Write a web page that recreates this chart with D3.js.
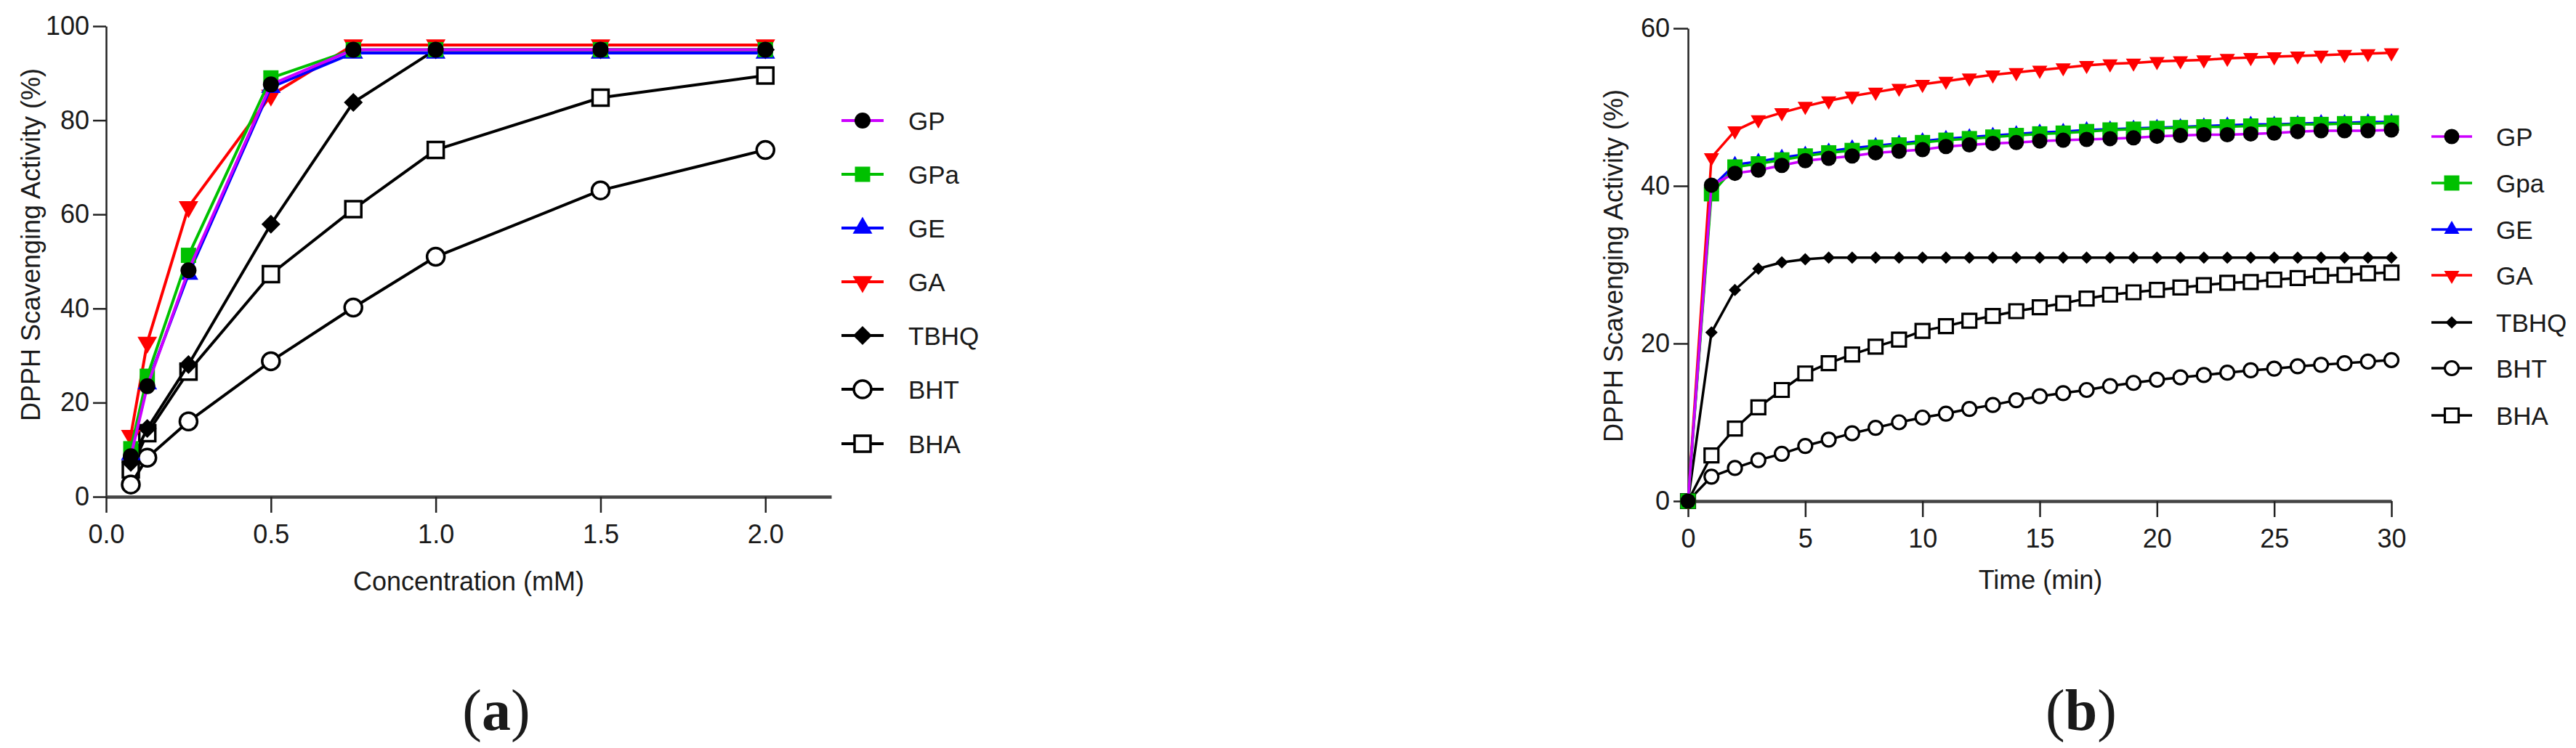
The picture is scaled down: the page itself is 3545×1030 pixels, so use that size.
<!DOCTYPE html>
<html>
<head>
<meta charset="utf-8">
<script src="https://cdnjs.cloudflare.com/ajax/libs/d3/7.8.5/d3.min.js"></script>
<style>
  body { margin: 0; background: #fff; }
  text { font-family: "Liberation Sans", Arial, sans-serif; fill: #1a1a1a; }
  .panel-label { font-family: "Liberation Serif", "Times New Roman", serif; }
</style>
</head>
<body>
<div id="content"></div>
<script>
// (a) concentration series
var concA = [0.075, 0.125, 0.25, 0.5, 0.75, 1.0, 1.5, 2.0];
var gpA   = [8.6, 23.5, 48.1, 87.6, 95.0, 95.0, 95.0, 95.0];
var gpaA  = [10.2, 25.6, 51.3, 89.0, 95.0, 95.0, 95.0, 95.0];
var geA   = [9.0, 24.0, 47.3, 87.0, 94.3, 94.3, 94.3, 94.3];
var gaA   = [13.0, 32.8, 61.6, 85.3, 96.0, 96.0, 96.0, 96.0];
var tbhqA = [7.3, 14.5, 28.1, 57.9, 83.8, 95.0, 95.0, 95.0];
var bhtA  = [2.6, 8.3, 16.0, 28.8, 40.2, 51.0, 65.1, 73.7];
var bhaA  = [5.8, 13.5, 26.6, 47.3, 61.1, 73.7, 84.8, 89.5];

// (b) time series
var timeB = [0, 1, 2, 3, 4, 5, 6, 7, 8, 9, 10, 11, 12, 13, 14, 15, 16, 17, 18, 19, 20,
             21, 22, 23, 24, 25, 26, 27, 28, 29, 30];
var gpB   = [0, 40.1, 41.6, 42.0, 42.6, 43.2, 43.5, 43.8, 44.2, 44.4, 44.6, 45.0, 45.2, 45.4, 45.5,
             45.7, 45.8, 45.9, 46.0, 46.1, 46.3, 46.4, 46.5, 46.5, 46.6, 46.7, 46.9, 47.0, 47.0, 47.0, 47.1];
var gpaB  = [0, 39.0, 42.4, 42.8, 43.3, 43.8, 44.2, 44.5, 44.9, 45.2, 45.5, 45.8, 46.0, 46.2, 46.4,
             46.6, 46.7, 46.9, 47.1, 47.2, 47.3, 47.4, 47.5, 47.5, 47.6, 47.7, 47.8, 47.8, 47.9, 47.9, 48.0];
var geB   = [0, 39.8, 42.7, 43.1, 43.6, 44.0, 44.4, 44.8, 45.1, 45.4, 45.7, 46.0, 46.2, 46.4, 46.6,
             46.8, 46.9, 47.1, 47.2, 47.3, 47.4, 47.5, 47.6, 47.7, 47.8, 47.8, 47.9, 48.0, 48.0, 48.1, 48.1];
var gaB   = [0, 43.6, 47.0, 48.4, 49.3, 50.1, 50.8, 51.4, 51.9, 52.4, 52.9, 53.3, 53.7, 54.1, 54.4,
             54.7, 55.0, 55.3, 55.5, 55.6, 55.8, 55.9, 56.0, 56.2, 56.3, 56.4, 56.5, 56.6, 56.7, 56.8, 56.9];
var tbhqB = [0, 21.4, 26.8, 29.5, 30.3, 30.7, 30.9, 30.9, 30.9, 30.9, 30.9, 30.9, 30.9, 30.9, 30.9,
             30.9, 30.9, 30.9, 30.9, 30.9, 30.9, 30.9, 30.9, 30.9, 30.9, 30.9, 30.9, 30.9, 30.9, 30.9, 30.9];
var bhtB  = [0, 3.1, 4.2, 5.2, 6.0, 7.0, 7.8, 8.6, 9.3, 10.0, 10.6, 11.1, 11.7, 12.2, 12.8,
             13.3, 13.7, 14.1, 14.6, 15.0, 15.4, 15.7, 16.0, 16.3, 16.6, 16.8, 17.1, 17.3, 17.5, 17.7, 17.9];
var bhaB  = [0, 5.8, 9.2, 11.9, 14.1, 16.2, 17.5, 18.6, 19.6, 20.5, 21.6, 22.2, 22.9, 23.5, 24.1,
             24.6, 25.1, 25.7, 26.2, 26.5, 26.8, 27.1, 27.4, 27.7, 27.8, 28.1, 28.3, 28.6, 28.7, 28.9, 29.0];

var namesA = ["GP", "GPa", "GE", "GA", "TBHQ", "BHT", "BHA"];
var namesB = ["GP", "Gpa", "GE", "GA", "TBHQ", "BHT", "BHA"];
var lineColors = ["#cc00ff", "#00c000", "#0000ff", "#ff0000", "#000000", "#000000", "#000000"];
var markerFill = ["#000000", "#00c000", "#0000ff", "#ff0000", "#000000", "#ffffff", "#ffffff"];
var markers = ["circle", "square", "triangle", "triangleDown", "diamond", "circle", "square"];

var ticksA = [0, 20, 40, 60, 80, 100];
var xticksA = [0.0, 0.5, 1.0, 1.5, 2.0];
var ticksB = [0, 20, 40, 60];
var xticksB = [0, 5, 10, 15, 20, 25, 30];

var svg = d3.select("#content").append("svg")
	.attr("width", 3545).attr("height", 1030);

svg.append("rect").attr("width", 3545).attr("height", 1030).attr("fill", "#fff");

// size d: diameter / side / triangle side / diamond diagonal
function markerPath(kind, d) {
	if (kind == "circle") return d3.symbol().type(d3.symbolCircle).size(Math.PI * d * d / 4)();
	if (kind == "square") return d3.symbol().type(d3.symbolSquare).size(d * d)();
	if (kind == "diamond") return d3.symbol().type(d3.symbolSquare).size(d * d / 2)();
	return d3.symbol().type(d3.symbolTriangle).size(Math.sqrt(3) / 4 * d * d)();
}

function markerRot(kind) {
	if (kind == "triangleDown") return " rotate(180)";
	if (kind == "diamond") return " rotate(45)";
	return "";
}

function drawPanel(cfg) {
	var g = svg.append("g");
	var x = d3.scaleLinear().domain(cfg.xDomain).range(cfg.xRange);
	var y = d3.scaleLinear().domain(cfg.yDomain).range(cfg.yRange);

	// y axis
	var yAxis = g.append("g")
		.attr("transform", "translate(" + cfg.xRange[0] + ",0)")
		.call(d3.axisLeft(y).tickValues(cfg.yTicks).tickSize(cfg.yTickLen).tickSizeOuter(0).tickPadding(5));
	yAxis.select(".domain").attr("stroke", "#222").attr("stroke-width", 2.5);
	yAxis.selectAll(".tick line").attr("stroke", "#222").attr("stroke-width", 2.5);
	yAxis.selectAll(".tick text").attr("font-size", 36).attr("fill", "#1a1a1a")
		.style("font-family", "'Liberation Sans', Arial, sans-serif");

	// x axis
	var xAxis = g.append("g")
		.attr("transform", "translate(0," + cfg.yRange[0] + ")")
		.call(d3.axisBottom(x).tickValues(cfg.xTicks).tickFormat(cfg.xFormat)
			.tickSize(cfg.xTickLen).tickSizeOuter(0).tickPadding(16));
	xAxis.select(".domain").attr("stroke", "#444").attr("stroke-width", 4.5);
	xAxis.selectAll(".tick line").attr("stroke", "#222").attr("stroke-width", 2.5);
	xAxis.selectAll(".tick text").attr("font-size", 36).attr("fill", "#1a1a1a")
		.style("font-family", "'Liberation Sans', Arial, sans-serif");

	// titles
	g.append("text")
		.attr("x", cfg.xTitlePos[0]).attr("y", cfg.xTitlePos[1])
		.attr("text-anchor", "middle").attr("dominant-baseline", "central")
		.attr("font-size", 36).text(cfg.xTitle);
	g.append("text")
		.attr("transform", "translate(" + cfg.yTitlePos[0] + "," + cfg.yTitlePos[1] + ") rotate(-90)")
		.attr("text-anchor", "middle").attr("dominant-baseline", "central")
		.attr("font-size", 36).text("DPPH Scavenging Activity (%)");

	var line = d3.line()
		.x(function(d) { return x(d[0]); })
		.y(function(d) { return y(d[1]); });

	// draw from last series to first so GP ends on top
	for (var i = cfg.series.length - 1; i >= 0; i--) {
		var s = cfg.series[i];
		var pts = cfg.xs.map(function(v, k) { return [v, s[k]]; });
		var sg = g.append("g");
		sg.append("path")
			.attr("d", line(pts))
			.attr("fill", "none")
			.attr("stroke", lineColors[i])
			.attr("stroke-width", cfg.lineWidth)
			.attr("stroke-linejoin", "round");
		var kind = markers[i];
		var open = markerFill[i] == "#ffffff";
		sg.selectAll("path.pt")
			.data(pts)
			.enter().append("path")
			.attr("class", "pt")
			.attr("d", markerPath(kind, cfg.markSize[i]))
			.attr("transform", function(d) {
				return "translate(" + x(d[0]) + "," + y(d[1]) + ")" + markerRot(kind);
			})
			.attr("fill", markerFill[i])
			.attr("stroke", open ? "#000" : "none")
			.attr("stroke-width", open ? cfg.openStroke : 0);
	}

	// legend
	for (var j = 0; j < cfg.names.length; j++) {
		var ly = cfg.legendY[j];
		var lg = g.append("g").attr("transform", "translate(0," + ly + ")");
		lg.append("line")
			.attr("x1", cfg.legendX[0]).attr("x2", cfg.legendX[2])
			.attr("stroke", lineColors[j]).attr("stroke-width", cfg.lineWidth);
		var k2 = markers[j];
		var open2 = markerFill[j] == "#ffffff";
		lg.append("path")
			.attr("d", markerPath(k2, cfg.markSize[j]))
			.attr("transform", "translate(" + cfg.legendX[1] + ",0)" + markerRot(k2))
			.attr("fill", markerFill[j])
			.attr("stroke", open2 ? "#000" : "none")
			.attr("stroke-width", open2 ? cfg.openStroke : 0);
		lg.append("text")
			.attr("x", cfg.legendX[3]).attr("y", 0)
			.attr("dominant-baseline", "central")
			.attr("font-size", 35).text(cfg.names[j]);
	}

	// panel letter
	var pl = g.append("text").attr("class", "panel-label")
		.attr("x", cfg.letterPos[0]).attr("y", cfg.letterPos[1])
		.attr("text-anchor", "middle").attr("dominant-baseline", "central")
		.attr("font-size", 80);
	pl.append("tspan").text("(");
	pl.append("tspan").attr("font-weight", "bold").text(cfg.letter);
	pl.append("tspan").text(")");
}

drawPanel({
	xDomain: [0, 2.2], xRange: [146, 1144],
	yDomain: [0, 100], yRange: [684, 36],
	xTicks: xticksA, yTicks: ticksA, xFormat: d3.format(".1f"),
	yTickLen: 18, xTickLen: 22,
	xs: concA,
	series: [gpA, gpaA, geA, gaA, tbhqA, bhtA, bhaA],
	names: namesA,
	markSize: [22, 21, 27, 27, 26, 24, 22],
	lineWidth: 4, openStroke: 3.5,
	xTitle: "Concentration (mM)", xTitlePos: [645, 800],
	yTitlePos: [42, 337],
	legendX: [1158, 1187, 1216, 1250],
	legendY: [166, 240, 314, 388, 462, 536, 611],
	letter: "a", letterPos: [683, 978]
});

drawPanel({
	xDomain: [0, 30], xRange: [2323, 3291],
	yDomain: [0, 60], yRange: [690, 39],
	xTicks: xticksB, yTicks: ticksB, xFormat: d3.format("d"),
	yTickLen: 20, xTickLen: 22,
	xs: timeB,
	series: [gpB, gpaB, geB, gaB, tbhqB, bhtB, bhaB],
	names: namesB,
	markSize: [21, 21, 21, 21, 17, 19, 19],
	lineWidth: 3.5, openStroke: 3.2,
	xTitle: "Time (min)", xTitlePos: [2808, 798],
	yTitlePos: [2220, 366],
	legendX: [3346, 3374, 3402, 3435],
	legendY: [188, 252, 316, 379, 444, 507, 572],
	letter: "b", letterPos: [2864, 978]
});
</script>
</body>
</html>
